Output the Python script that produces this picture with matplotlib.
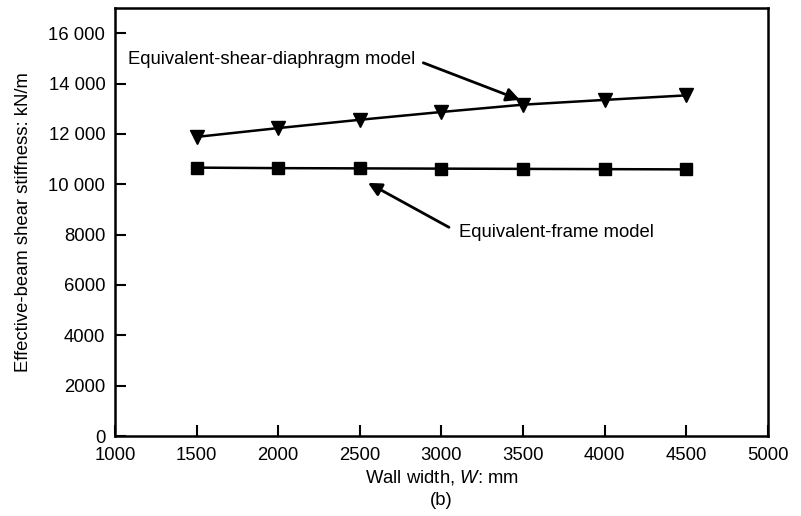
import matplotlib
matplotlib.use("Agg")
import matplotlib.pyplot as plt

plt.rcParams['font.family'] = ['Liberation Sans', 'DejaVu Sans']
plt.rcParams['mathtext.fontset'] = 'custom'
plt.rcParams['mathtext.it'] = 'Liberation Sans:italic'
plt.rcParams['mathtext.rm'] = 'Liberation Sans'

wall_width = [1500, 2000, 2500, 3000, 3500, 4000, 4500]
shear_diaphragm = [11880, 12230, 12560, 12870, 13160, 13350, 13530]
equiv_frame = [10660, 10640, 10630, 10620, 10610, 10600, 10590]
x_ticks = [1000, 1500, 2000, 2500, 3000, 3500, 4000, 4500, 5000]
y_ticks = [0, 2000, 4000, 6000, 8000, 10000, 12000, 14000, 16000]
y_tick_labels = ['0', '2000', '4000', '6000', '8000', '10 000', '12 000', '14 000', '16 000']

FS = 13.3
fig = plt.figure(figsize=(8.01, 5.16), dpi=100)
ax = fig.add_axes([0.1436, 0.155, 0.815, 0.8295])

ax.plot(wall_width, shear_diaphragm, color='black', lw=1.8, marker='v', markersize=10)
ax.plot(wall_width, equiv_frame, color='black', lw=1.8, marker='s', markersize=9)

ax.set_xlim(1000, 5000)
ax.set_ylim(0, 17000)
ax.set_xticks(x_ticks)
ax.set_xticklabels([str(v) for v in x_ticks])
ax.set_yticks(y_ticks)
ax.set_yticklabels(y_tick_labels)
ax.tick_params(direction='in', length=8, width=1.5, labelsize=FS, colors='black')
ax.tick_params(axis='y', pad=7)
ax.tick_params(axis='x', pad=8)
for s in ax.spines.values():
    s.set_linewidth(1.8)

ax.set_ylabel('Effective-beam shear stiffness: kN/m', fontsize=FS, labelpad=12)
ax.set_xlabel('Wall width, $\\it{W}$: mm', fontsize=FS, labelpad=3)
fig.text(0.551, 0.031, '(b)', ha='center', va='center', fontsize=FS)

ax.annotate('Equivalent-shear-diaphragm model', xy=(3481, 13350), xytext=(1080, 14945),
            fontsize=FS, va='center', ha='left',
            arrowprops=dict(arrowstyle='-|>', color='black', lw=2, mutation_scale=20,
                            shrinkA=4, shrinkB=0, relpos=(1.0, 0.5)))
ax.annotate('Equivalent-frame model', xy=(2550, 10055), xytext=(3108, 8070),
            fontsize=FS, va='center', ha='left',
            arrowprops=dict(arrowstyle='-|>', color='black', lw=2, mutation_scale=20,
                            shrinkA=6, shrinkB=0, relpos=(0.0, 0.5)))

fig.savefig('out.png', dpi=100)
